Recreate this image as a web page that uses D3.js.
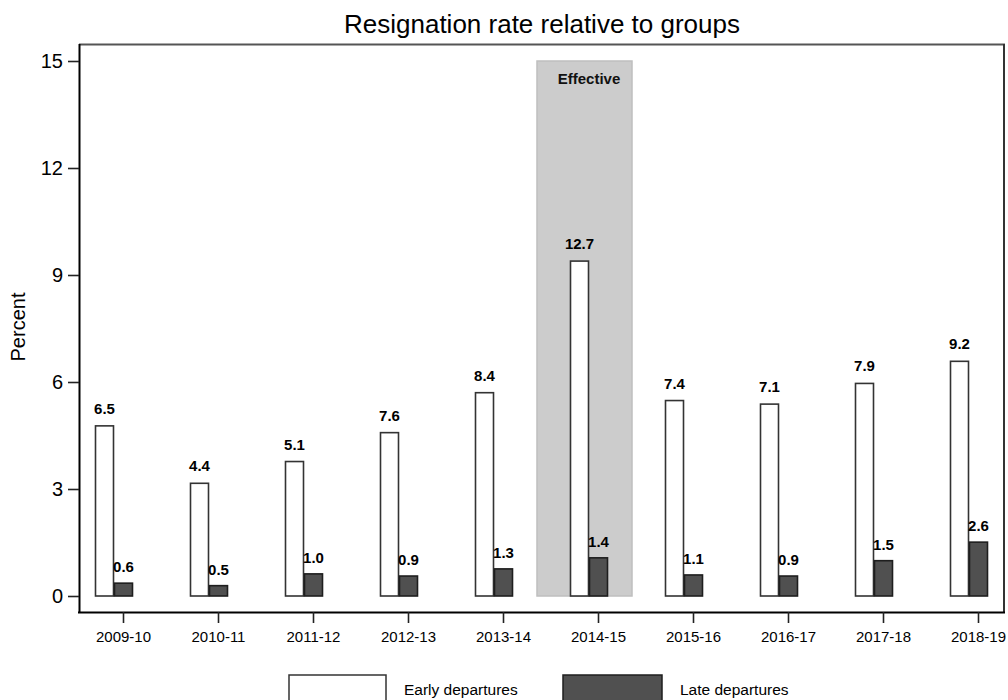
<!DOCTYPE html>
<html><head><meta charset="utf-8">
<script src="https://cdn.jsdelivr.net/npm/d3@7"></script>
<style>body{margin:0;background:#fff;} svg{display:block;font-family:"Liberation Sans",Arial,sans-serif;}</style>
</head><body>
<svg id="c" width="1008" height="700"></svg>
<script>
const categories = ["2009-10","2010-11","2011-12","2012-13","2013-14","2014-15","2015-16","2016-17","2017-18","2018-19"];
const earlyValues = [4.77,3.16,3.77,4.58,5.70,9.39,5.48,5.38,5.96,6.58];
const lateValues  = [0.36,0.29,0.62,0.56,0.76,1.07,0.59,0.56,0.99,1.51];
const earlyLabels = ["6.5","4.4","5.1","7.6","8.4","12.7","7.4","7.1","7.9","9.2"];
const lateLabels  = ["0.6","0.5","1.0","0.9","1.3","1.4","1.1","0.9","1.5","2.6"];
const yTicks = [0,3,6,9,12,15];
const highlightCategory = "2014-15";
const highlightLabel = "Effective";
const seriesNames = ["Early departures","Late departures"];

const FF = "'Liberation Sans',Arial,sans-serif";
const svg = d3.select("#c");
const x = d3.scalePoint().domain(categories).range([123, 978]);
const y = d3.scaleLinear().domain([0,15]).range([596, 61]);

// frame
svg.append("line").attr("x1",79).attr("x2",1005).attr("y1",44.5).attr("y2",44.5).attr("stroke","#555").attr("stroke-width",2);
svg.append("line").attr("x1",1004).attr("x2",1004).attr("y1",44).attr("y2",612).attr("stroke","#333").attr("stroke-width",2);

// highlight region
svg.append("rect").attr("x",x(highlightCategory)-61).attr("width",95)
  .attr("y",y(15)).attr("height",y(0)-y(15))
  .attr("fill","#cccccc").attr("stroke","#bfbfbf").attr("stroke-width",1.5);
svg.append("text").attr("x",x(highlightCategory)-9).attr("y",84).attr("text-anchor","middle")
  .attr("font-size",15).attr("font-weight","bold").attr("fill","#111").text(highlightLabel);

// bars
const g = svg.append("g");
g.selectAll("rect.e").data(categories).join("rect").attr("class","e")
  .attr("x",d=>x(d)-27.5).attr("width",18)
  .attr("y",(d,i)=>y(earlyValues[i])).attr("height",(d,i)=>y(0)-y(earlyValues[i]))
  .attr("fill","#fff").attr("stroke","#333").attr("stroke-width",1.6);
g.selectAll("rect.l").data(categories).join("rect").attr("class","l")
  .attr("x",d=>x(d)-8.5).attr("width",18)
  .attr("y",(d,i)=>y(lateValues[i])).attr("height",(d,i)=>y(0)-y(lateValues[i]))
  .attr("fill","#505050").attr("stroke","#1e1e1e").attr("stroke-width",1.6);

// value labels
g.selectAll("text.el").data(categories).join("text").attr("class","el")
  .attr("x",d=>x(d)-18.5).attr("y",(d,i)=>y(earlyValues[i])-12)
  .attr("text-anchor","middle").attr("font-size",15).attr("font-weight","bold").attr("fill","#000")
  .text((d,i)=>earlyLabels[i]);
g.selectAll("text.ll").data(categories).join("text").attr("class","ll")
  .attr("x",d=>x(d)+0.5).attr("y",(d,i)=>y(lateValues[i])-11)
  .attr("text-anchor","middle").attr("font-size",15).attr("font-weight","bold").attr("fill","#000")
  .text((d,i)=>lateLabels[i]);

// y axis
const ya = svg.append("g").attr("transform","translate(79,0)")
  .call(d3.axisLeft(y).tickValues(yTicks).tickSize(11).tickPadding(5).tickSizeOuter(0));
ya.select(".domain").attr("d","M0.5,44V612").attr("stroke","#000").attr("stroke-width",2);
ya.selectAll(".tick line").attr("stroke","#222").attr("stroke-width",1.6);
ya.selectAll(".tick text").attr("font-size",20).attr("fill","#000").attr("font-family",FF);

// x axis
const xa = svg.append("g").attr("transform","translate(0,612)")
  .call(d3.axisBottom(x).tickSize(11).tickPadding(8).tickSizeOuter(0));
xa.select(".domain").attr("d","M78,0.5H1005").attr("stroke","#000").attr("stroke-width",2);
xa.selectAll(".tick line").attr("stroke","#222").attr("stroke-width",1.6);
xa.selectAll(".tick text").attr("font-size",15).attr("fill","#000").attr("font-family",FF);

// title
svg.append("text").attr("x",542).attr("y",33).attr("text-anchor","middle").attr("font-size",26).attr("fill","#000")
  .text("Resignation rate relative to groups");
// y label
svg.append("text").attr("transform","translate(25,327) rotate(-90)").attr("text-anchor","middle")
  .attr("font-size",20).attr("fill","#000").text("Percent");

// legend
const leg = svg.append("g");
leg.append("rect").attr("x",289).attr("y",675).attr("width",97).attr("height",30).attr("fill","#fff").attr("stroke","#333").attr("stroke-width",1.5);
leg.append("text").attr("x",404).attr("y",695).attr("font-size",15.5).attr("fill","#000").text(seriesNames[0]);
leg.append("rect").attr("x",563).attr("y",675).attr("width",99).attr("height",30).attr("fill","#505050").attr("stroke","#1e1e1e").attr("stroke-width",1.5);
leg.append("text").attr("x",680).attr("y",695).attr("font-size",15.5).attr("fill","#000").text(seriesNames[1]);
</script>
</body></html>
